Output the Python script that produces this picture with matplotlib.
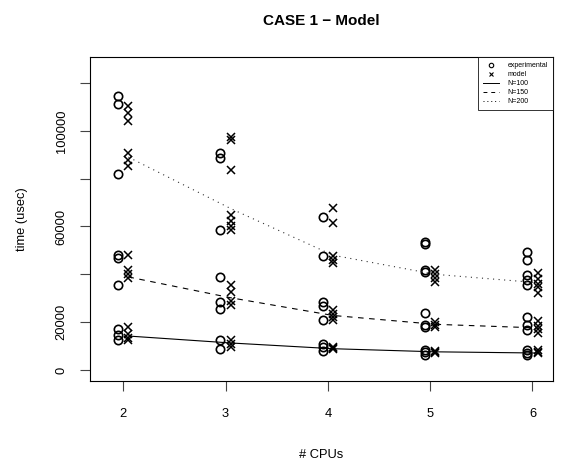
import matplotlib
matplotlib.use("Agg")
import matplotlib.pyplot as plt
from matplotlib.lines import Line2D
import numpy as np

plt.rcParams['font.family'] = ['Liberation Sans', 'DejaVu Sans']

cpus = [2, 3, 4, 5, 6]

# measured times (usec), one list per #CPUs
exp_times = {
    2: [114500, 111200, 81800, 48100, 46700, 35500, 17000, 14600, 12500],
    3: [90600, 88500, 58500, 38800, 28600, 25400, 12500, 8600],
    4: [64100, 47700, 28600, 26800, 20900, 11000, 9500, 8000],
    5: [53600, 52500, 41800, 40800, 23700, 18800, 17800, 8400, 7500, 6300],
    6: [49500, 46000, 39700, 37600, 35500, 22300, 18800, 16700, 8400, 7100, 6300],
}
# model predictions (usec)
model_times = {
    2: [110400, 107300, 104200, 90900, 87800, 85500, 48100, 41800, 40000, 38400, 17800, 15000, 13500, 12500],
    3: [97500, 96200, 83600, 64800, 62500, 60300, 58500, 35500, 32700, 29000, 27200, 12500, 11000, 9700],
    4: [67600, 61300, 47700, 46000, 44700, 25100, 23500, 22000, 20900, 9500, 9000, 8700],
    5: [41800, 40000, 38500, 36900, 20200, 19000, 18100, 8000, 7500, 7000],
    6: [40600, 38000, 36000, 34800, 32000, 20500, 18500, 17000, 15500, 8500, 7500, 7000],
}
# model curves per problem size
n100 = [14200, 11300, 8900, 7600, 7100]
n150 = [38900, 30200, 22800, 19100, 17600]
n200 = [89000, 67500, 48000, 40000, 36500]

fig = plt.figure(figsize=(5.74, 4.68), dpi=100)
ax = fig.add_axes([90/574, 1-381/468, 463/574, 324/468])

off = 0.05
for c in cpus:
    ax.plot([c - off]*len(exp_times[c]), exp_times[c], linestyle='none', marker='o',
            markersize=6, markerfacecolor='none', markeredgecolor='black', markeredgewidth=1.2)
    ax.plot([c + off]*len(model_times[c]), model_times[c], linestyle='none', marker='x',
            markersize=5.5, color='black', markeredgewidth=1.1)

xm = np.array(cpus) + off
ax.plot(xm, n100, color='black', lw=0.8, ls='-')
ax.plot(xm, n150, color='black', lw=0.8, ls=(0, (5, 5)))
ax.plot(xm, n200, color='#333333', lw=0.8, ls=(0, (1, 4)))

ax.set_xlim(1.6745, 6.2004)
ax.set_ylim(-4600, 130870)
ax.set_xticks(cpus)
ax.set_yticks(range(0, 120001, 20000))
ax.set_yticklabels(['0', '20000', '', '60000', '', '100000', ''])
ax.tick_params(direction='out', length=7.2, width=0.8, labelsize=9.3, color='#444444')
ax.tick_params(axis='x', pad=12)
ax.tick_params(axis='y', pad=9, labelrotation=90)
for lab in ax.get_yticklabels():
    lab.set_va('center')
for sp in ax.spines.values():
    sp.set_linewidth(0.8)

ax.set_xlabel('# CPUs', fontsize=9.3, labelpad=21)
ax.set_ylabel('time (usec)', fontsize=9.3, labelpad=20)
fig.text(321.5/574, 1-21/468, 'CASE 1 \u2212 Model', ha='center', va='center',
         fontsize=11, fontweight='bold')

handles = [
    Line2D([], [], ls='none', marker='o', markersize=3.2, markerfacecolor='none',
           markeredgecolor='black', markeredgewidth=0.8),
    Line2D([], [], ls='none', marker='x', markersize=3, color='black', markeredgewidth=0.8),
    Line2D([], [], color='black', lw=0.7, ls='-'),
    Line2D([], [], color='black', lw=0.7, ls=(0, (4, 4))),
    Line2D([], [], color='black', lw=0.7, ls=(0, (1, 3))),
]
leg = ax.legend(handles, ['experimental', 'model', 'N=100', 'N=150', 'N=200'],
                loc='upper right', fontsize=5.0, frameon=True, fancybox=False,
                borderaxespad=0, handlelength=2.3, handletextpad=1.2,
                labelspacing=0.28, borderpad=0.75)
leg.get_frame().set_edgecolor('black')
leg.get_frame().set_linewidth(0.7)

fig.savefig('out.png', dpi=100)
